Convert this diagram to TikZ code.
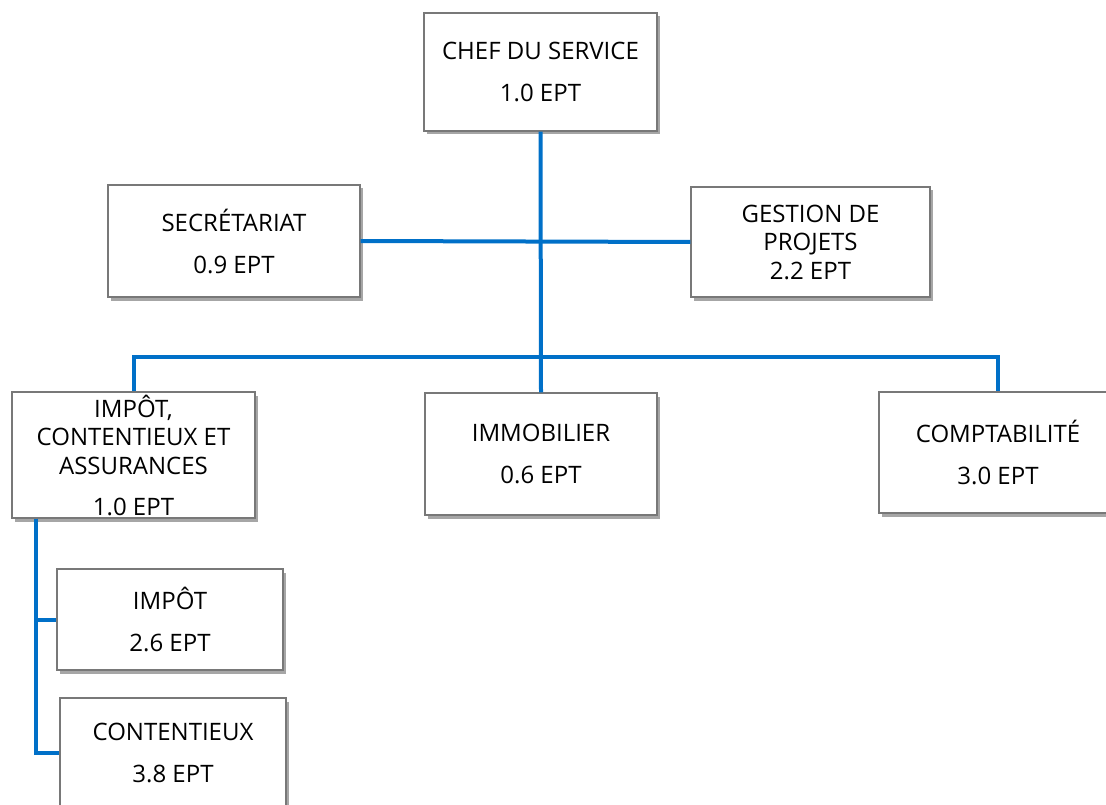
\documentclass[tikz,border=0pt]{standalone}
\usepackage{fontspec}
\setmainfont{Open Sans}
\usetikzlibrary{shadows}
\definecolor{linkblue}{RGB}{0,112,200}
\definecolor{boxline}{RGB}{120,120,120}
\begin{document}
\begin{tikzpicture}[x=1pt,y=-1pt,
  unit/.style={draw=boxline, line width=1.2pt, fill=white, align=center,
    inner sep=0pt, font=\fontsize{24}{28.5}\selectfont,
    drop shadow={shadow xshift=2.5pt, shadow yshift=-3.5pt, fill=black, opacity=0.35}},
  link/.style={draw=linkblue, line width=4pt}]
\useasboundingbox (0,0) rectangle (1106,805);
\clip (0,0) rectangle (1106,805);

% units of the service
\node[unit, minimum width=233pt, minimum height=118pt] (chef) at (540.5,72)
  {CHEF DU SERVICE\\[13.5pt]1.0 EPT};
\node[unit, minimum width=252pt, minimum height=112pt] (secr) at (234,241)
  {SECRÉTARIAT\\[13.5pt]0.9 EPT};
\node[unit, minimum width=239pt, minimum height=110pt] (gest) at (810.5,242)
  {GESTION DE\\PROJETS\\2.2 EPT};
\node[unit, minimum width=243pt, minimum height=126pt] (ica) at (133.5,455)
  {IMPÔT,\\CONTENTIEUX ET\\ASSURANCES\\[12.5pt]1.0 EPT};
\node[unit, minimum width=232pt, minimum height=122pt] (immo) at (541,454)
  {IMMOBILIER\\[13.5pt]0.6 EPT};
\node[unit, minimum width=238pt, minimum height=121pt] (comp) at (998,452.5)
  {COMPTABILITÉ\\[13.5pt]3.0 EPT};
\node[unit, minimum width=226pt, minimum height=101pt] (imp) at (170,619.5)
  {IMPÔT\\[13.5pt]2.6 EPT};
\node[unit, minimum width=226pt, minimum height=110pt] (cont) at (173,753)
  {CONTENTIEUX\\[13.5pt]3.8 EPT};

% junction points
\coordinate (bus) at (540.5,357);
\coordinate (trunk) at ([xshift=25pt]ica.south west);

% connectors
\draw[link] (chef.south) -- (immo.north);
\draw[link] (secr.east) -- (gest.west);
\draw[link] (ica.north) |- (bus) -| (comp.north);
\draw[link] (trunk) |- (imp.west);
\draw[link] (trunk) |- (cont.west);
\end{tikzpicture}
\end{document}
